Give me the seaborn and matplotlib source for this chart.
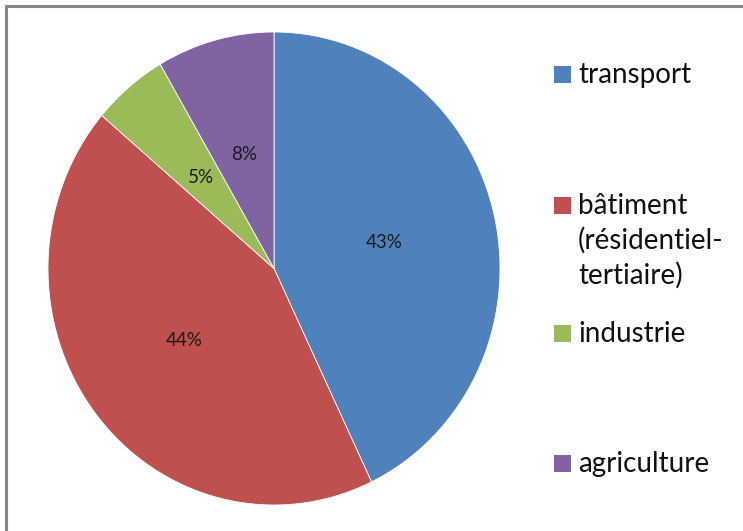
import matplotlib
matplotlib.use("Agg")
import matplotlib.pyplot as plt
import seaborn as sns
import numpy as np
from matplotlib.patches import Rectangle
from matplotlib.lines import Line2D

categories = ["transport", "bâtiment\n(résidentiel-\ntertiaire)", "industrie", "agriculture"]
values = [42.9, 43.3, 5.4, 8.4]          # slice sizes
pct_labels = ["43%", "44%", "5%", "8%"]  # labels as printed on the chart
colors = ["#4F81BD", "#C0504D", "#9BBB59", "#8064A2"]
legend_y = [74.5, 205, 333, 463]  # pixel centres of legend squares

sns.set_theme(style="white")
plt.rcParams["font.family"] = ["Lato", "DejaVu Sans"]
pal = sns.color_palette(colors)

W, H = 743, 531
fig = plt.figure(figsize=(W / 100, H / 100), dpi=100)
ax = fig.add_axes([48 / W, (H - 505) / H, (500 - 48) / W, (505 - 32) / H])

wedges, texts = ax.pie(
    values, colors=pal, startangle=90, counterclock=False,
    wedgeprops=dict(edgecolor="white", linewidth=0.6),
)
# percentage labels placed at half radius of each wedge
for w, lab in zip(wedges, pct_labels):
    ang = np.deg2rad((w.theta1 + w.theta2) / 2)
    ax.text(0.5 * np.cos(ang), 0.5 * np.sin(ang), lab, ha="center", va="center",
            fontsize=13.5, color="#1a1a1a")
ax.set_aspect("auto")
ax.set_xlim(-1, 1)
ax.set_ylim(-1, 1)
ax.axis("off")

# legend (manual, Excel-like)
for lab, col, yc in zip(categories, colors, legend_y):
    fig.patches.append(Rectangle((554 / W, 1 - (yc + 8.5) / H), 17 / W, 17 / H,
                                 transform=fig.transFigure, facecolor=col,
                                 edgecolor="none"))
    for i, line in enumerate(lab.split("\n")):
        fig.text(578 / W, 1 - (yc + 9 + 35 * i) / H, line, fontsize=20,
                 va="baseline", ha="left", color="#111111")

# border (top and left visible)
fig.add_artist(Line2D([6.5 / W, 1], [1 - 6 / H, 1 - 6 / H], transform=fig.transFigure,
                      color="#868686", lw=2.2))
fig.add_artist(Line2D([6.5 / W, 6.5 / W], [0, 1 - 6 / H], transform=fig.transFigure,
                      color="#868686", lw=2.2))

fig.savefig("out.png", dpi=100)
